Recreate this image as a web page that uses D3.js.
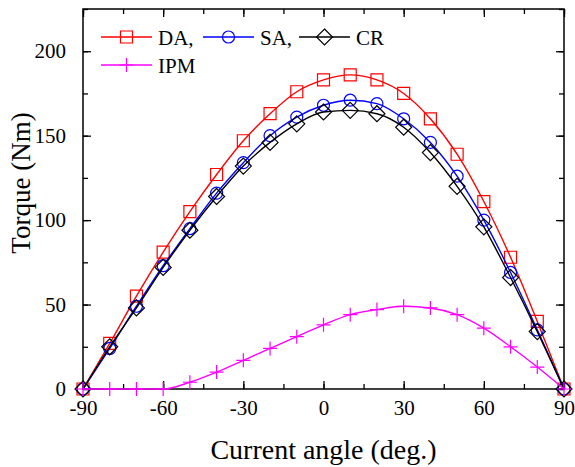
<!DOCTYPE html>
<html>
<head>
<meta charset="utf-8">
<script src="https://cdn.jsdelivr.net/npm/d3@7"></script>
<style>
  body { margin: 0; background: #fff; }
</style>
</head>
<body>
<script>
const [W, H] = [575, 467];
const M = { left: 83, right: 11, top: 9, bottom: 78 };
const FONT = '"Liberation Serif", "Times New Roman", Times, serif';

// current angle (deg.)
const angles = [-90, -80, -70, -60, -50, -40, -30, -20, -10, 0, 10, 20, 30, 40, 50, 60, 70, 80, 90];
// torque (Nm)
const daTorque  = [0, 27, 55, 81, 105, 127, 147, 163, 176, 183, 186, 183, 175, 160, 139, 111, 78, 40, 0];
const saTorque  = [0, 24, 49, 73, 95, 116, 134, 150, 161, 168, 171, 169, 160, 146, 126, 100, 69, 35, 0];
const crTorque  = [0, 25, 48, 72, 94, 114, 132, 146, 157, 164, 165, 163, 155, 140, 120, 96, 66, 34, 0];
const ipmTorque = [0, 0, 0, 0, 4, 10, 17, 24, 31, 38, 44, 47, 49, 48, 44, 36, 25, 13, 0];

const xTicks = [-90, -60, -30, 0, 30, 60, 90];
const yTicks = [0, 50, 100, 150, 200];

const series = [
    { name: 'DA,', values: daTorque, color: '#ff0000', marker: 'square' },
    { name: 'SA,', values: saTorque, color: '#0000ff', marker: 'circle' },
    { name: 'CR', values: crTorque, color: '#000000', marker: 'diamond' },
    { name: 'IPM', values: ipmTorque, color: '#ff00ff', marker: 'plus' }
];

function markerPath(type) {
    if (type === 'square') return 'M-6,-6H6V6H-6Z';
    if (type === 'circle') return 'M6,0A6,6 0 1,1 -6,0A6,6 0 1,1 6,0Z';
    if (type === 'diamond') return 'M0,-8L8,0L0,8L-8,0Z';
    return 'M-7,0H7M0,-7V7';
}

const svg = d3.select('body').append('svg').attr('width', W).attr('height', H)
    .style('font-family', FONT);

const x = d3.scaleLinear().domain([-90, 90]).range([M.left, W - M.right]);
const y = d3.scaleLinear().domain([0, 225]).range([H - M.bottom, M.top]);

// axes with inward ticks, mirrored on top and right
const minorX = d3.range(-90, 91, 15);
const minorY = d3.range(0, 226, 25);

function styleAxis(g) {
    g.attr('font-family', null);
    g.select('.domain').remove();
    g.selectAll('line').attr('stroke', '#000').attr('stroke-width', 1.3);
    g.selectAll('text').style('font-size', '21px').style('font-family', FONT).attr('fill', '#000');
}

svg.append('g').attr('transform', `translate(0,${H - M.bottom})`)
    .call(d3.axisBottom(x).tickValues(minorX).tickSize(-5).tickFormat(''))
    .call(styleAxis);
svg.append('g').attr('transform', `translate(0,${H - M.bottom})`)
    .call(d3.axisBottom(x).tickValues(xTicks).tickSize(-8).tickPadding(11).tickFormat(d => d))
    .call(styleAxis);
svg.append('g').attr('transform', `translate(0,${M.top})`)
    .call(d3.axisTop(x).tickValues(minorX).tickSize(-5).tickFormat(''))
    .call(styleAxis);
svg.append('g').attr('transform', `translate(0,${M.top})`)
    .call(d3.axisTop(x).tickValues(xTicks).tickSize(-8).tickFormat(''))
    .call(styleAxis);

svg.append('g').attr('transform', `translate(${M.left},0)`)
    .call(d3.axisLeft(y).tickValues(minorY).tickSize(-5).tickFormat(''))
    .call(styleAxis);
svg.append('g').attr('transform', `translate(${M.left},0)`)
    .call(d3.axisLeft(y).tickValues(yTicks).tickSize(-8).tickPadding(17))
    .call(styleAxis);
svg.append('g').attr('transform', `translate(${W - M.right},0)`)
    .call(d3.axisRight(y).tickValues(minorY).tickSize(-5).tickFormat(''))
    .call(styleAxis);
svg.append('g').attr('transform', `translate(${W - M.right},0)`)
    .call(d3.axisRight(y).tickValues(yTicks).tickSize(-8).tickFormat(''))
    .call(styleAxis);

// frame
svg.append('rect')
    .attr('x', M.left).attr('y', M.top)
    .attr('width', W - M.left - M.right).attr('height', H - M.top - M.bottom)
    .attr('fill', 'none').attr('stroke', '#000').attr('stroke-width', 1.5);

// axis titles
svg.append('text')
    .attr('x', (M.left + W - M.right) / 2).attr('y', 459)
    .attr('text-anchor', 'middle').style('font-size', '28px').style('font-family', FONT)
    .text('Current angle (deg.)');
svg.append('text')
    .attr('transform', 'translate(30,183) rotate(-90)')
    .attr('text-anchor', 'middle').style('font-size', '27px').style('font-family', FONT)
    .text('Torque (Nm)');

// series
const line = d3.line()
    .x((d, i) => x(angles[i]))
    .y(d => y(d))
    .curve(d3.curveMonotoneX);

series.forEach(s => {
    const g = svg.append('g');
    g.append('path')
        .attr('d', line(s.values))
        .attr('fill', 'none').attr('stroke', s.color).attr('stroke-width', 1.4);
    g.selectAll('path.mk')
        .data(s.values).enter()
        .append('path').attr('class', 'mk')
        .attr('transform', (d, i) => `translate(${x(angles[i])},${y(d)})`)
        .attr('d', markerPath(s.marker))
        .attr('fill', 'none').attr('stroke', s.color).attr('stroke-width', 1.2);
});

// legend
const legendPos = [
    { x: 101, y: 37 },
    { x: 203, y: 37 },
    { x: 299, y: 37 },
    { x: 101, y: 65 }
];

series.forEach((s, i) => {
    const p = legendPos[i];
    const g = svg.append('g').attr('transform', `translate(${p.x},${p.y})`);
    g.append('line').attr('x1', 0).attr('x2', 51).attr('y1', 0).attr('y2', 0)
        .attr('stroke', s.color).attr('stroke-width', 1.4);
    g.append('path').attr('transform', 'translate(25.5,0)')
        .attr('d', markerPath(s.marker))
        .attr('fill', 'none').attr('stroke', s.color).attr('stroke-width', 1.2);
    g.append('text').attr('x', 57).attr('y', 8)
        .style('font-size', '21px').style('font-family', FONT)
        .text(s.name);
});
</script>
</body>
</html>
